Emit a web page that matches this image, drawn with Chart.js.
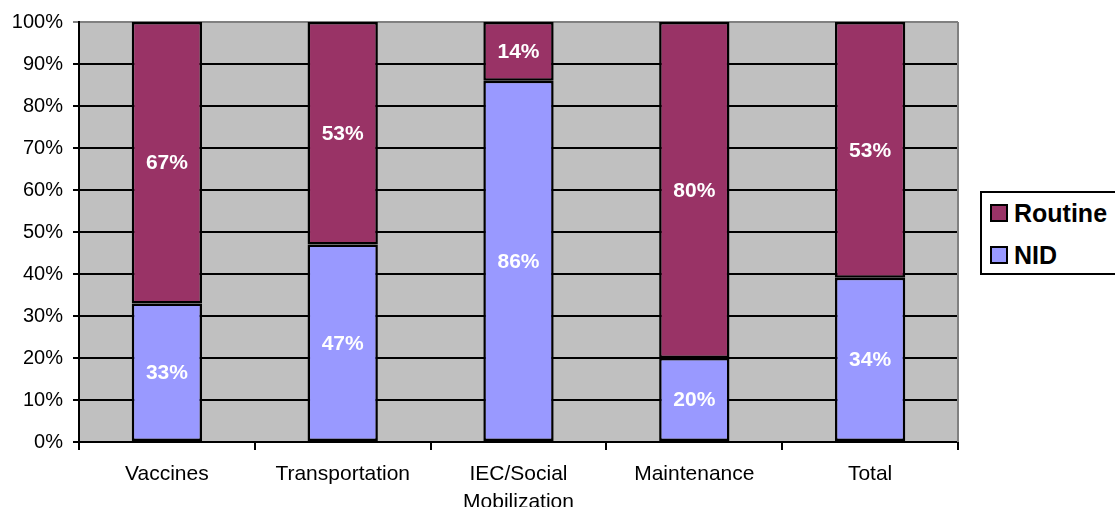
<!DOCTYPE html>
<html>
<head>
<meta charset="utf-8">
<script src="https://cdn.jsdelivr.net/npm/chart.js@4.4.1/dist/chart.umd.min.js"></script>
<style>
  html, body { margin: 0; padding: 0; background: #fff; overflow: hidden; }
  #wrap { position: relative; width: 1115px; height: 507px; }
  #legend {
    position: absolute; left: 980px; top: 191px; width: 150px; height: 84px;
    border: 2px solid #000; background: #fff; box-sizing: border-box;
    font: bold 25px Arial, "Liberation Sans", sans-serif; color: #000;
  }
  #legend .row { position: absolute; left: 8px; height: 28px; display: flex; align-items: center; }
  #legend .sw { width: 14px; height: 14px; border: 2px solid #000; margin-right: 6px; }
</style>
</head>
<body>
<div id="wrap">
  <canvas id="chart" width="1115" height="507"></canvas>
  <div id="legend"></div>
</div>
<script>
// categories and raw shares (labels show these; bars are normalised to 100%)
const categories = ['Vaccines', 'Transportation', ['IEC/Social', 'Mobilization'], 'Maintenance', 'Total'];
const nidValues = [33, 47, 86, 20, 34];
const routineValues = [67, 53, 14, 80, 53];
const yTicks = [0, 10, 20, 30, 40, 50, 60, 70, 80, 90, 100];

const FONT = 'Arial, "Liberation Sans", sans-serif';
const NID_COLOR = '#9999FF';
const ROUTINE_COLOR = '#993366';

const toPct = (vals, i) => vals[i] / (nidValues[i] + routineValues[i]) * 100;

// legend (Routine on top, as in the original)
document.getElementById('legend').innerHTML = `
  <div class="row" style="top:6px"><div class="sw" style="background:${ROUTINE_COLOR}"></div>Routine</div>
  <div class="row" style="top:48px"><div class="sw" style="background:${NID_COLOR}"></div>NID</div>`;

const plotBg = {
  id: 'plotBg',
  beforeDraw(chart) {
    const { ctx, chartArea: a } = chart;
    ctx.save();
    ctx.fillStyle = '#C0C0C0';
    ctx.fillRect(a.left, a.top, a.right - a.left, a.bottom - a.top);
    ctx.restore();
  },
  afterDatasetsDraw(chart) {
    const { ctx, chartArea: a } = chart;
    ctx.save();
    ctx.strokeStyle = '#808080';
    ctx.lineWidth = 2;
    ctx.beginPath();
    ctx.moveTo(a.right, a.top);
    ctx.lineTo(a.right, a.bottom);
    ctx.stroke();
    ctx.restore();
  }
};

const barLabels = {
  id: 'barLabels',
  afterDatasetsDraw(chart) {
    const { ctx } = chart;
    ctx.save();
    ctx.fillStyle = '#fff';
    ctx.font = 'bold 21px ' + FONT;
    ctx.textAlign = 'center';
    ctx.textBaseline = 'middle';
    chart.data.datasets.forEach((ds, di) => {
      chart.getDatasetMeta(di).data.forEach((bar, i) => {
        ctx.fillText(ds.raw[i] + '%', bar.x, (bar.y + bar.base) / 2 + 1);
      });
    });
    ctx.restore();
  }
};

new Chart(document.getElementById('chart'), {
  type: 'bar',
  data: {
    labels: categories,
    datasets: [
      {
        label: 'NID',
        raw: nidValues,
        data: nidValues.map((v, i) => toPct(nidValues, i)),
        backgroundColor: NID_COLOR,
        borderColor: '#000', borderWidth: 2.5, borderSkipped: false
      },
      {
        label: 'Routine',
        raw: routineValues,
        data: routineValues.map((v, i) => toPct(routineValues, i)),
        backgroundColor: ROUTINE_COLOR,
        borderColor: '#000', borderWidth: 2.5, borderSkipped: false
      }
    ]
  },
  options: {
    responsive: false,
    animation: false,
    devicePixelRatio: 1,
    layout: { padding: { top: 22, right: 157, left: 0, bottom: 0 } },
    plugins: { legend: { display: false }, tooltip: { enabled: false } },
    datasets: { bar: { categoryPercentage: 1, barPercentage: 0.4 } },
    scales: {
      x: {
        stacked: true,
        afterFit: s => { s.height = 65; },
        border: { color: '#000', width: 2 },
        grid: { offset: true, drawOnChartArea: false, drawTicks: true, tickLength: 8, color: '#000', lineWidth: 2 },
        ticks: { color: '#000', font: { family: FONT, size: 21, lineHeight: 1.3 }, padding: 11, maxRotation: 0, autoSkip: false }
      },
      y: {
        stacked: true,
        min: 0, max: 100,
        afterFit: s => { s.width = 79; },
        afterBuildTicks: s => { s.ticks = yTicks.map(v => ({ value: v })); },
        border: { color: '#000', width: 2 },
        grid: {
          color: c => (c.tick && c.tick.value === 100 ? '#808080' : '#000'),
          lineWidth: 2, tickLength: 6
        },
        ticks: { color: '#000', font: { family: FONT, size: 20 }, padding: 10, callback: v => v + '%' }
      }
    }
  },
  plugins: [plotBg, barLabels]
});
</script>
</body>
</html>
